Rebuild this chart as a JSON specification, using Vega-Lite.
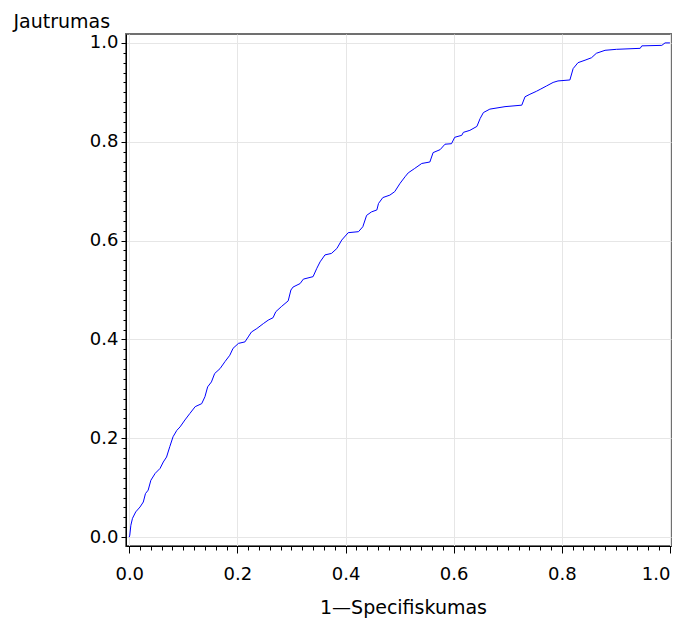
{
  "$schema": "https://vega.github.io/schema/vega-lite/v6.json",
  "width": 545,
  "height": 512,
  "autosize": {"type": "none"},
  "padding": {"left": 126, "top": 34, "right": 6, "bottom": 75},
  "config": {
    "view": {"stroke": "#707070", "strokeWidth": 2},
    "font": "DejaVu Sans"
  },
  "data": {
    "values": [
      {"fpr": 0, "tpr": 0},
      {"fpr": 0.001, "tpr": 0.004},
      {"fpr": 0.003, "tpr": 0.024},
      {"fpr": 0.006, "tpr": 0.038},
      {"fpr": 0.012, "tpr": 0.051},
      {"fpr": 0.020, "tpr": 0.061},
      {"fpr": 0.026, "tpr": 0.071},
      {"fpr": 0.030, "tpr": 0.088},
      {"fpr": 0.035, "tpr": 0.095},
      {"fpr": 0.040, "tpr": 0.115},
      {"fpr": 0.048, "tpr": 0.129},
      {"fpr": 0.057, "tpr": 0.139},
      {"fpr": 0.063, "tpr": 0.152},
      {"fpr": 0.069, "tpr": 0.162},
      {"fpr": 0.075, "tpr": 0.183},
      {"fpr": 0.081, "tpr": 0.203},
      {"fpr": 0.088, "tpr": 0.216},
      {"fpr": 0.094, "tpr": 0.223},
      {"fpr": 0.103, "tpr": 0.237},
      {"fpr": 0.112, "tpr": 0.250},
      {"fpr": 0.122, "tpr": 0.264},
      {"fpr": 0.134, "tpr": 0.270},
      {"fpr": 0.140, "tpr": 0.284},
      {"fpr": 0.145, "tpr": 0.304},
      {"fpr": 0.152, "tpr": 0.314},
      {"fpr": 0.158, "tpr": 0.331},
      {"fpr": 0.168, "tpr": 0.341},
      {"fpr": 0.177, "tpr": 0.355},
      {"fpr": 0.186, "tpr": 0.368},
      {"fpr": 0.192, "tpr": 0.382},
      {"fpr": 0.202, "tpr": 0.392},
      {"fpr": 0.214, "tpr": 0.395},
      {"fpr": 0.220, "tpr": 0.405},
      {"fpr": 0.226, "tpr": 0.415},
      {"fpr": 0.236, "tpr": 0.422},
      {"fpr": 0.248, "tpr": 0.432},
      {"fpr": 0.257, "tpr": 0.439},
      {"fpr": 0.266, "tpr": 0.444},
      {"fpr": 0.271, "tpr": 0.456},
      {"fpr": 0.282, "tpr": 0.467},
      {"fpr": 0.294, "tpr": 0.478},
      {"fpr": 0.299, "tpr": 0.500},
      {"fpr": 0.303, "tpr": 0.506},
      {"fpr": 0.316, "tpr": 0.513},
      {"fpr": 0.322, "tpr": 0.522},
      {"fpr": 0.340, "tpr": 0.527},
      {"fpr": 0.347, "tpr": 0.544},
      {"fpr": 0.353, "tpr": 0.557},
      {"fpr": 0.362, "tpr": 0.571},
      {"fpr": 0.374, "tpr": 0.574},
      {"fpr": 0.384, "tpr": 0.584},
      {"fpr": 0.393, "tpr": 0.601},
      {"fpr": 0.405, "tpr": 0.616},
      {"fpr": 0.424, "tpr": 0.618},
      {"fpr": 0.432, "tpr": 0.628},
      {"fpr": 0.439, "tpr": 0.651},
      {"fpr": 0.448, "tpr": 0.658},
      {"fpr": 0.458, "tpr": 0.662},
      {"fpr": 0.461, "tpr": 0.675},
      {"fpr": 0.469, "tpr": 0.687},
      {"fpr": 0.482, "tpr": 0.692},
      {"fpr": 0.491, "tpr": 0.699},
      {"fpr": 0.501, "tpr": 0.716},
      {"fpr": 0.510, "tpr": 0.729},
      {"fpr": 0.516, "tpr": 0.737},
      {"fpr": 0.528, "tpr": 0.746},
      {"fpr": 0.541, "tpr": 0.756},
      {"fpr": 0.556, "tpr": 0.759},
      {"fpr": 0.562, "tpr": 0.778},
      {"fpr": 0.575, "tpr": 0.784},
      {"fpr": 0.584, "tpr": 0.795},
      {"fpr": 0.596, "tpr": 0.796},
      {"fpr": 0.602, "tpr": 0.809},
      {"fpr": 0.615, "tpr": 0.813},
      {"fpr": 0.618, "tpr": 0.819},
      {"fpr": 0.630, "tpr": 0.823},
      {"fpr": 0.643, "tpr": 0.831},
      {"fpr": 0.649, "tpr": 0.847},
      {"fpr": 0.655, "tpr": 0.859},
      {"fpr": 0.667, "tpr": 0.866},
      {"fpr": 0.695, "tpr": 0.871},
      {"fpr": 0.726, "tpr": 0.874},
      {"fpr": 0.732, "tpr": 0.891},
      {"fpr": 0.741, "tpr": 0.896},
      {"fpr": 0.753, "tpr": 0.902},
      {"fpr": 0.760, "tpr": 0.906},
      {"fpr": 0.772, "tpr": 0.913},
      {"fpr": 0.784, "tpr": 0.920},
      {"fpr": 0.793, "tpr": 0.923},
      {"fpr": 0.815, "tpr": 0.925},
      {"fpr": 0.821, "tpr": 0.948},
      {"fpr": 0.830, "tpr": 0.960},
      {"fpr": 0.843, "tpr": 0.965},
      {"fpr": 0.855, "tpr": 0.970},
      {"fpr": 0.864, "tpr": 0.979},
      {"fpr": 0.880, "tpr": 0.985},
      {"fpr": 0.901, "tpr": 0.987},
      {"fpr": 0.945, "tpr": 0.989},
      {"fpr": 0.948, "tpr": 0.994},
      {"fpr": 0.985, "tpr": 0.995},
      {"fpr": 0.991, "tpr": 1.0},
      {"fpr": 1.0, "tpr": 1.0}
    ]
  },
  "mark": {"type": "line", "color": "#0000ff", "strokeWidth": 1, "interpolate": "linear"},
  "encoding": {
    "x": {
      "field": "fpr",
      "type": "quantitative",
      "scale": {"domain": [-0.006, 1.002], "nice": false, "zero": false},
      "axis": {
        "title": "1—Specifiskumas",
        "titleFont": "DejaVu Sans",
        "titleFontSize": 19,
        "titleFontWeight": "normal",
        "titleColor": "#000000",
        "titleBaseline": "alphabetic",
        "titleAlign": "center",
        "titleX": 277,
        "titleY": 67,
        "values": [0,0.02,0.04,0.06,0.08,0.1,0.12,0.14,0.16,0.18,0.2,0.22,0.24,0.26,0.28,0.3,0.32,0.34,0.36,0.38,0.4,0.42,0.44,0.46,0.48,0.5,0.52,0.54,0.56,0.58,0.6,0.62,0.64,0.66,0.68,0.7,0.72,0.74,0.76,0.78,0.8,0.82,0.84,0.86,0.88,0.9,0.92,0.94,0.96,0.98,1.0],
        "labelExpr": "abs(datum.value*5 - round(datum.value*5)) < 0.001 ? format(datum.value, '.1f') : ''",
        "labelFlush": false,
        "labelOverlap": false,
        "labelAlign": {"condition": {"test": "datum.value > 0.999", "value": "right"}, "value": "center"},
        "labelFont": "DejaVu Sans",
        "labelFontSize": 18,
        "labelColor": "#000000",
        "labelPadding": 12,
        "domainColor": "#000000",
        "domainWidth": 1,
        "tickColor": "#000000",
        "tickSize": {"condition": {"test": "abs(datum.value*5 - round(datum.value*5)) < 0.001", "value": 7}, "value": 4},
        "grid": true,
        "gridColor": "#e6e6e6",
        "gridWidth": 1,
        "gridOpacity": {"condition": {"test": "abs(datum.value*5 - round(datum.value*5)) < 0.001", "value": 1}, "value": 0}
      }
    },
    "y": {
      "field": "tpr",
      "type": "quantitative",
      "scale": {"domain": [-0.018, 1.018], "nice": false, "zero": false},
      "axis": {
        "title": "Jautrumas",
        "titleFont": "DejaVu Sans",
        "titleFontSize": 19,
        "titleFontWeight": "normal",
        "titleColor": "#000000",
        "titleAngle": 0,
        "titleAlign": "left",
        "titleBaseline": "alphabetic",
        "titleX": -113,
        "titleY": -7,
        "values": [0,0.02,0.04,0.06,0.08,0.1,0.12,0.14,0.16,0.18,0.2,0.22,0.24,0.26,0.28,0.3,0.32,0.34,0.36,0.38,0.4,0.42,0.44,0.46,0.48,0.5,0.52,0.54,0.56,0.58,0.6,0.62,0.64,0.66,0.68,0.7,0.72,0.74,0.76,0.78,0.8,0.82,0.84,0.86,0.88,0.9,0.92,0.94,0.96,0.98,1.0],
        "labelExpr": "abs(datum.value*5 - round(datum.value*5)) < 0.001 ? format(datum.value, '.1f') : ''",
        "labelFlush": false,
        "labelOverlap": false,
        "labelFont": "DejaVu Sans",
        "labelFontSize": 18,
        "labelColor": "#000000",
        "labelPadding": 3,
        "domainColor": "#000000",
        "domainWidth": 1,
        "tickColor": "#000000",
        "tickSize": {"condition": {"test": "abs(datum.value*5 - round(datum.value*5)) < 0.001", "value": 5}, "value": 3},
        "grid": true,
        "gridColor": "#e6e6e6",
        "gridWidth": 1,
        "gridOpacity": {"condition": {"test": "abs(datum.value*5 - round(datum.value*5)) < 0.001", "value": 1}, "value": 0}
      }
    }
  }
}
